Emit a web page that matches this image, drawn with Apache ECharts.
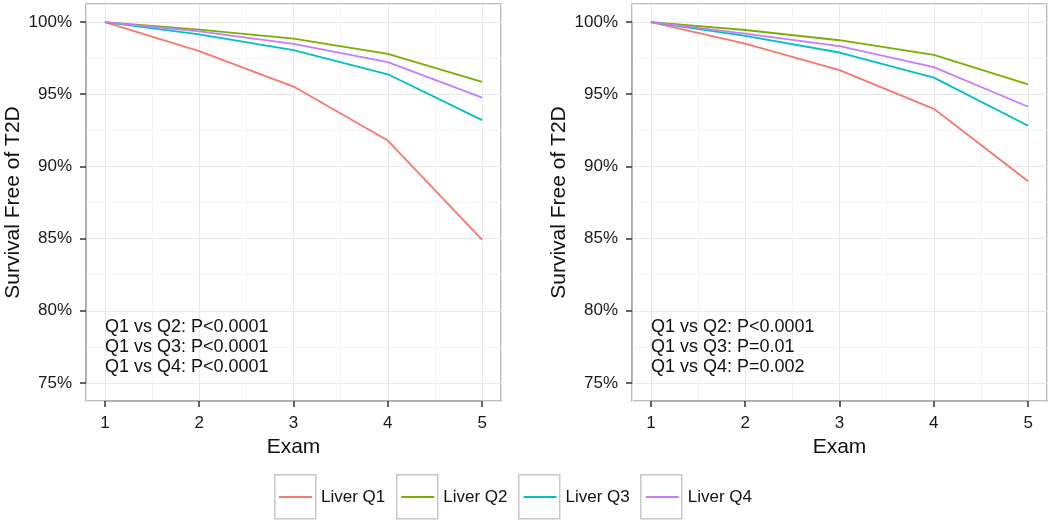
<!DOCTYPE html>
<html>
<head>
<meta charset="utf-8">
<script src="https://cdn.jsdelivr.net/npm/echarts@6/dist/echarts.min.js"></script>
<style>html,body{margin:0;padding:0;background:#fff}#c{width:1050px;height:520px}</style>
</head>
<body>
<div id="c"></div>
<script>
// ---- data ----
const exams = [1, 2, 3, 4, 5];
const seriesNames = ['Liver Q1', 'Liver Q2', 'Liver Q3', 'Liver Q4'];
const seriesColors = ['#F8766D', '#7CAE00', '#00BFC4', '#C77CFF'];
const leftQ1 = [100, 97.98, 95.53, 91.79, 84.91];
const leftQ2 = [100, 99.47, 98.85, 97.80, 95.85];
const leftQ3 = [100, 99.15, 98.05, 96.38, 93.21];
const leftQ4 = [100, 99.36, 98.49, 97.22, 94.77];
const rightQ1 = [100, 98.51, 96.67, 93.99, 88.97];
const rightQ2 = [100, 99.45, 98.74, 97.73, 95.69];
const rightQ3 = [100, 99.04, 97.89, 96.15, 92.82];
const rightQ4 = [100, 99.20, 98.33, 96.88, 94.13];
const xTickRange = [1, 5], xTickStep = 1;       // tick labels 1..5
const yTickRange = [75, 100], yTickStep = 5;    // tick labels 75%..100%
const leftNotes = ['Q1 vs Q2: P<0.0001', 'Q1 vs Q3: P<0.0001', 'Q1 vs Q4: P<0.0001'];
const rightNotes = ['Q1 vs Q2: P<0.0001', 'Q1 vs Q3: P=0.01', 'Q1 vs Q4: P=0.002'];

const FONT = "'Liberation Sans', Arial, Helvetica, sans-serif";
// panel range = tick range expanded by 5% (ggplot default)
const X_MIN = 0.8, X_MAX = 5.2, Y_MIN = 73.75, Y_MAX = 101.25;
const PT = 4, PW = 415, PH = 397;
const panels = [
  {left: 86, sets: [leftQ1, leftQ2, leftQ3, leftQ4], notes: leftNotes},
  {left: 632, sets: [rightQ1, rightQ2, rightQ3, rightQ4], notes: rightNotes}
];

const grids = [], xAxes = [], yAxes = [], series = [], graphics = [];
panels.forEach((p, gi) => {
  const outer = gi * 2, inner = gi * 2 + 1;
  const sx = PW / (X_MAX - X_MIN), sy = PH / (Y_MAX - Y_MIN);
  const offX = (xTickRange[0] - X_MIN) * sx;
  const offY = (yTickRange[0] - Y_MIN) * sy;
  const innerW = (xTickRange[1] - xTickRange[0]) * sx;
  const innerH = (yTickRange[1] - yTickRange[0]) * sy;
  const innerTop = PT + (Y_MAX - yTickRange[1]) * sy;

  grids.push({left: p.left, top: PT, width: PW, height: PH, show: true,
    borderColor: '#a6a6a6', borderWidth: 1.5, outerBoundsMode: 'none'});
  grids.push({left: p.left + offX, top: innerTop, width: innerW, height: innerH, show: false, outerBoundsMode: 'none'});

  xAxes.push({type: 'value', gridIndex: outer, min: X_MIN, max: X_MAX, position: 'bottom',
    axisLine: {show: false}, axisTick: {show: false}, axisLabel: {show: false},
    splitLine: {show: true, lineStyle: {color: '#e8e8e8', width: 1}},
    minorTick: {show: false, splitNumber: 2},
    minorSplitLine: {show: true, lineStyle: {color: '#f4f4f4', width: 1}}
  });
  xAxes.push({type: 'value', gridIndex: inner, min: xTickRange[0], max: xTickRange[1], interval: xTickStep,
    position: 'bottom', offset: offY,
    name: 'Exam', nameLocation: 'middle', nameGap: 29,
    nameTextStyle: {fontFamily: FONT, fontSize: 21, color: '#111'},
    axisLine: {show: true, lineStyle: {color: '#a6a6a6', width: 1.5}},
    axisTick: {show: true, length: 6, lineStyle: {color: '#333333', width: 1.5}},
    axisLabel: {show: true, margin: 14, fontFamily: FONT, fontSize: 17, color: '#1a1a1a'},
    splitLine: {show: false}
  });

  yAxes.push({type: 'value', gridIndex: outer, min: Y_MIN, max: Y_MAX, position: 'left',
    axisLine: {show: false}, axisTick: {show: false}, axisLabel: {show: false},
    splitLine: {show: true, lineStyle: {color: '#e8e8e8', width: 1}},
    minorTick: {show: false, splitNumber: 2},
    minorSplitLine: {show: true, lineStyle: {color: '#f4f4f4', width: 1}}
  });
  yAxes.push({type: 'value', gridIndex: inner, min: yTickRange[0], max: yTickRange[1], interval: yTickStep,
    position: 'left', offset: offX,
    name: 'Survival Free of T2D', nameLocation: 'middle', nameGap: 62,
    nameTextStyle: {fontFamily: FONT, fontSize: 21, color: '#111'},
    axisLine: {show: true, lineStyle: {color: '#a6a6a6', width: 1.5}},
    axisTick: {show: true, length: 6, lineStyle: {color: '#333333', width: 1.5}},
    axisLabel: {show: true, margin: 14, fontFamily: FONT, fontSize: 17, color: '#1a1a1a',
      formatter: v => v + '%'},
    splitLine: {show: false}
  });

  p.sets.forEach((vals, si) => {
    series.push({
      type: 'line', name: seriesNames[si], xAxisIndex: outer, yAxisIndex: outer,
      data: exams.map((x, i) => [x, vals[i]]),
      showSymbol: false, symbol: 'none', smooth: false, silent: true,
      lineStyle: {color: seriesColors[si], width: 1.8},
      itemStyle: {color: seriesColors[si]},
      z: 3
    });
  });
  graphics.push({
    type: 'text', left: p.left + 19, top: 317, z: 10,
    style: {text: p.notes.join('\n'), font: '18px ' + FONT, fill: '#111', lineHeight: 20}
  });
});

seriesNames.forEach((n, i) => {
  graphics.push({type: 'rect', left: 274 + 122 * i, top: 474, z: 0,
    shape: {width: 41, height: 44},
    style: {fill: '#fff', stroke: '#c8c8c8', lineWidth: 1.5}});
});

const chart = echarts.init(document.getElementById('c'), null, {renderer: 'canvas'});
chart.setOption({
  animation: false,
  backgroundColor: '#fff',
  grid: grids,
  xAxis: xAxes,
  yAxis: yAxes,
  series: series,
  legend: {
    data: seriesNames.map(n => ({name: n, icon: 'rect'})),
    left: 279, top: 486, padding: 0, itemGap: 16,
    itemWidth: 33, itemHeight: 2, selectedMode: false,
    formatter: name => '{g|}{n|' + name + '}',
    textStyle: {fontFamily: FONT, fontSize: 17, color: '#111', lineHeight: 22,
      rich: {g: {width: 4}, n: {width: 64, fontFamily: FONT, fontSize: 17, color: '#111'}}}
  },
  graphic: graphics
});
</script>
</body>
</html>
